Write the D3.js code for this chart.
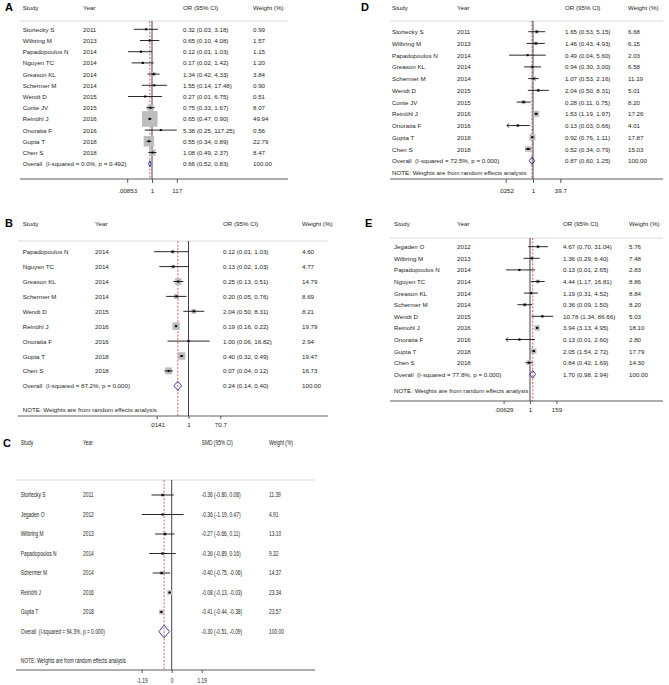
<!DOCTYPE html>
<html>
<head>
<meta charset="utf-8">
<script src="https://cdn.jsdelivr.net/npm/d3@7"></script>
<style>
body{margin:0;background:#fff;}
svg text{font-family:"Liberation Sans",Arial,sans-serif;fill:#1e1e1e;white-space:pre;}
</style>
</head>
<body>
<svg id="chart" width="669" height="685"></svg>
<script>
// ---- panel A : OR ----
const studiesA = ["Stortecky S","Wilbring M","Papadopoulos N","Nguyen TC","Greason KL","Schermer M","Wendt D","Conte JV","Reinöhl J","Onoratia F","Gupta T","Chen S"];
const yearsA = [2011,2013,2014,2014,2014,2014,2015,2015,2016,2016,2018,2018];
const estA = [0.32,0.65,0.12,0.17,1.34,1.55,0.27,0.75,0.65,5.38,0.55,1.08];
const lowA = [0.03,0.10,0.01,0.02,0.42,0.14,0.01,0.33,0.47,0.25,0.34,0.49];
const highA = [3.18,4.08,1.03,1.42,4.33,17.48,6.75,1.67,0.90,117.25,0.89,2.37];
const weightA = [0.99,1.57,1.15,1.20,3.84,0.90,0.51,8.07,49.94,0.56,22.79,8.47];
const overallA = [0.66,0.52,0.83];
const hetA = ["0.0%","0.492"];
const ticksA = [0.00853,1,117];
const tickLabelsA = [".00853","1","117"];

// ---- panel B : OR ----
const studiesB = ["Papadopoulos N","Nguyen TC","Greason KL","Schermer M","Wendt D","Reinöhl J","Onoratia F","Gupta T","Chen S"];
const yearsB = [2014,2014,2014,2014,2015,2016,2016,2018,2018];
const estB = [0.12,0.13,0.25,0.20,2.04,0.19,1.00,0.40,0.07];
const lowB = [0.01,0.02,0.13,0.05,0.50,0.16,0.06,0.32,0.04];
const highB = [1.03,1.03,0.51,0.76,8.31,0.22,16.82,0.49,0.12];
const weightB = [4.60,4.77,14.79,8.69,8.21,19.79,2.94,19.47,16.73];
const overallB = [0.24,0.14,0.40];
const hetB = ["87.2%","0.000"];
const ticksB = [0.0141,1,70.7];
const tickLabelsB = [".0141","1","70.7"];

// ---- panel C : SMD ----
const studiesC = ["Stortecky S","Jegaden O","Wilbring M","Papadopoulos N","Schermer M","Reinöhl J","Gupta T"];
const yearsC = [2011,2012,2013,2014,2014,2016,2018];
const estC = [-0.36,-0.36,-0.27,-0.36,-0.40,-0.08,-0.41];
const lowC = [-0.80,-1.19,-0.66,-0.89,-0.75,-0.13,-0.44];
const highC = [0.08,0.47,0.11,0.16,-0.06,-0.03,-0.38];
const weightC = [11.39,4.91,13.10,9.32,14.37,23.34,23.57];
const overallC = [-0.30,-0.51,-0.09];
const hetC = ["94.3%","0.000"];
const ticksC = [-1.19,0,1.19];
const tickLabelsC = ["-1.19","0","1.19"];

// ---- panel D : OR ----
const studiesD = ["Stortecky S","Wilbring M","Papadopoulos N","Greason KL","Schermer M","Wendt D","Conte JV","Reinöhl J","Onoratia F","Gupta T","Chen S"];
const yearsD = [2011,2013,2014,2014,2014,2015,2015,2016,2016,2018,2018];
const estD = [1.65,1.46,0.49,0.94,1.07,2.04,0.28,1.53,0.13,0.92,0.52];
const lowD = [0.53,0.43,0.04,0.30,0.53,0.50,0.11,1.19,0.03,0.76,0.34];
const highD = [5.15,4.93,5.60,3.00,2.16,8.31,0.75,1.97,0.66,1.11,0.79];
const weightD = [6.68,6.15,2.03,6.58,11.19,5.01,8.20,17.26,4.01,17.87,15.03];
const truncD = [0,0,0,0,0,0,0,0,1,0,0];
const overallD = [0.87,0.60,1.25];
const hetD = ["72.5%","0.000"];
const ticksD = [0.0252,1,39.7];
const tickLabelsD = [".0252","1","39.7"];

// ---- panel E : OR ----
const studiesE = ["Jegaden O","Wilbring M","Papadopoulos N","Nguyen TC","Greason KL","Schermer M","Wendt D","Reinohl J","Onoratia F","Gupta T","Chen S"];
const yearsE = [2012,2013,2014,2014,2014,2014,2015,2016,2016,2018,2018];
const estE = [4.67,1.36,0.13,4.44,1.19,0.36,10.78,3.94,0.13,2.05,0.84];
const lowE = [0.70,0.29,0.01,1.17,0.31,0.09,1.34,3.13,0.01,1.54,0.42];
const highE = [31.04,6.40,2.65,16.81,4.52,1.50,86.66,4.95,2.60,2.72,1.69];
const weightE = [5.76,7.48,2.83,8.86,8.84,8.20,5.03,18.10,2.80,17.79,14.30];
const truncE = [0,0,0,0,0,0,0,0,1,0,0];
const overallE = [1.70,0.98,2.94];
const hetE = ["77.8%","0.000"];
const ticksE = [0.00629,1,159];
const tickLabelsE = [".00629","1","159"];

const svg = d3.select("#chart");
svg.append("rect").attr("width",669).attr("height",685).attr("fill","#fff");

function drawPanel(p){
	const g = svg.append("g");
	const n = p.studies.length;
	const rowY = d3.scaleLinear().domain([0,1]).range([p.y0, p.y0 + p.dy]);
	let x;
	if(p.log){
		x = d3.scaleLog().domain([p.ticks[0], p.ticks[2]]).range([p.x0 - p.hw, p.x0 + p.hw]);
	}else{
		x = d3.scaleLinear().domain([p.ticks[0], p.ticks[2]]).range([p.x0 - p.hw, p.x0 + p.hw]);
	}
	const fs = p.fs;
	const sx = p.sx || 1;
	function txt(tx, ty, s, anchor){
		return g.append("text")
			.attr("transform","translate(" + tx + "," + ty + ") scale(" + sx + ",1)")
			.attr("dominant-baseline","central")
			.attr("text-anchor", anchor || "start")
			.attr("font-size", fs)
			.text(s);
	}
	// letter
	g.append("text").attr("x",p.lx).attr("y",p.hy)
		.attr("dominant-baseline","central")
		.attr("font-size",11).attr("font-weight","bold").style("fill","#000")
		.text(p.letter);
	// header
	txt(p.cols[0], p.hy, "Study");
	txt(p.cols[1], p.hy, "Year");
	txt(p.cols[2], p.hy, p.measure + " (95% CI)");
	txt(p.cols[3], p.hy, "Weight (%)");
	g.append("line").attr("x1",p.lineX[0]).attr("x2",p.lineX[1])
		.attr("y1",p.hline).attr("y2",p.hline)
		.attr("stroke","#d0d0d0").attr("stroke-width",0.8);

	// null line and overall line
	const nullV = p.log ? 1 : 0;
	g.append("line").attr("x1",x(nullV)).attr("x2",x(nullV))
		.attr("y1",p.hline).attr("y2",p.axisY)
		.attr("stroke","#111").attr("stroke-width",0.8);
	g.append("line").attr("x1",x(p.overall[0])).attr("x2",x(p.overall[0]))
		.attr("y1",p.hline).attr("y2",p.axisY)
		.attr("stroke","#d9302c").attr("stroke-width",0.8)
		.attr("stroke-dasharray","2,1.6");

	const f2 = v => v.toFixed(2);
	for(let i = 0; i < n; i++){
		const y = rowY(i);
		const side = p.k * Math.sqrt(p.weight[i]);
		g.append("rect")
			.attr("x", x(p.est[i]) - side/2).attr("y", y - side/2)
			.attr("width", side).attr("height", side)
			.attr("fill","#bdbdbd");
		g.append("line").attr("x1",x(p.low[i])).attr("x2",x(p.high[i]))
			.attr("y1",y).attr("y2",y)
			.attr("stroke","#111").attr("stroke-width",0.9);
		if(p.trunc && p.trunc[i]){
			const ax = x(p.low[i]);
			g.append("path")
				.attr("d","M" + (ax+2) + "," + (y-2.2) + "L" + ax + "," + y + "L" + (ax+2) + "," + (y+2.2))
				.attr("fill","none").attr("stroke","#111").attr("stroke-width",0.8);
		}
		g.append("rect")
			.attr("x", x(p.est[i]) - 1).attr("y", y - 1)
			.attr("width", 2).attr("height", 2)
			.attr("fill","#000");
		txt(p.cols[0], y, p.studies[i]);
		txt(p.cols[1], y, String(p.years[i]));
		txt(p.cols[2], y, f2(p.est[i]) + " (" + f2(p.low[i]) + ", " + f2(p.high[i]) + ")");
		txt(p.cols[3], y, f2(p.weight[i]));
	}
	// overall diamond
	const yo = rowY(n);
	const o = p.overall;
	g.append("path")
		.attr("d","M" + x(o[1]) + "," + yo + "L" + x(o[0]) + "," + (yo - p.dh) + "L" + x(o[2]) + "," + yo + "L" + x(o[0]) + "," + (yo + p.dh) + "Z")
		.attr("fill","none")
		.attr("stroke","#2a2a96").attr("stroke-width",0.9);
	txt(p.cols[0], yo, "Overall  (I-squared = " + p.het[0] + ", p = " + p.het[1] + ")");
	txt(p.cols[2], yo, f2(o[0]) + " (" + f2(o[1]) + ", " + f2(o[2]) + ")");
	txt(p.cols[3], yo, "100.00");

	if(p.noteY){
		txt(p.cols[0], p.noteY, "NOTE: Weights are from random effects analysis");
	}

	// axis
	g.append("line").attr("x1",p.lineX[0]).attr("x2",p.lineX[1])
		.attr("y1",p.axisY).attr("y2",p.axisY)
		.attr("stroke","#333").attr("stroke-width",0.8);
	const axis = d3.axisBottom(x)
		.tickValues(p.ticks)
		.tickFormat((d,i) => p.tickLabels[i])
		.tickSize(p.tickLen).tickPadding(p.tickPad);
	const ag = g.append("g").attr("transform","translate(0," + p.axisY + ")").call(axis);
	ag.select(".domain").remove();
	ag.selectAll(".tick line").attr("stroke","#333").attr("stroke-width",0.8);
	ag.selectAll(".tick text")
		.attr("font-size",fs)
		.attr("font-family",null)
		.attr("transform","scale(" + sx + ",1)");
}

drawPanel({letter:"A", lx:5, hy:7, cols:[22.7,83,183,253], lineX:[20,288], hline:21,
	y0:29.3, dy:11.2, axisY:179, noteY:null, x0:152, hw:24.8, log:true, fs:6.2, k:2.2, dh:3,
	tickLen:4, tickPad:6,
	measure:"OR", studies:studiesA, years:yearsA, est:estA, low:lowA, high:highA, weight:weightA,
	overall:overallA, het:hetA, ticks:ticksA, tickLabels:tickLabelsA});

drawPanel({letter:"D", lx:361, hy:7, cols:[392,457,565,628], lineX:[390,663], hline:21,
	y0:31.7, dy:11.73, axisY:179, noteY:172.5, x0:533, hw:27.3, log:true, fs:6.2, k:1.45, dh:3.8,
	tickLen:4, tickPad:6,
	measure:"OR", studies:studiesD, years:yearsD, est:estD, low:lowD, high:highD, weight:weightD, trunc:truncD,
	overall:overallD, het:hetD, ticks:ticksD, tickLabels:tickLabelsD});

drawPanel({letter:"B", lx:5, hy:223, cols:[22.7,95,223,302], lineX:[18,328], hline:241,
	y0:251.7, dy:14.9, axisY:416, noteY:409, x0:188.5, hw:31.8, log:true, fs:6.2, k:1.7, dh:4.5,
	tickLen:3, tickPad:4,
	measure:"OR", studies:studiesB, years:yearsB, est:estB, low:lowB, high:highB, weight:weightB,
	overall:overallB, het:hetB, ticks:ticksB, tickLabels:tickLabelsB});

drawPanel({letter:"E", lx:365, hy:223, cols:[394,457,563,629], lineX:[390,663], hline:238,
	y0:246.7, dy:11.6, axisY:401, noteY:390.7, x0:530, hw:26.4, log:true, fs:6.2, k:1.3, dh:3.8,
	tickLen:3, tickPad:4,
	measure:"OR", studies:studiesE, years:yearsE, est:estE, low:lowE, high:highE, weight:weightE, trunc:truncE,
	overall:overallE, het:hetE, ticks:ticksE, tickLabels:tickLabelsE});

drawPanel({letter:"C", lx:3, hy:443, cols:[20.7,83,201.7,269], lineX:[16,315], hline:480,
	y0:495, dy:19.5, axisY:670, noteY:661, x0:171.7, hw:30, log:false, fs:6.4, sx:0.76, k:1.0, dh:6.3,
	tickLen:3, tickPad:5,
	measure:"SMD", studies:studiesC, years:yearsC, est:estC, low:lowC, high:highC, weight:weightC,
	overall:overallC, het:hetC, ticks:ticksC, tickLabels:tickLabelsC});
</script>
</body>
</html>
